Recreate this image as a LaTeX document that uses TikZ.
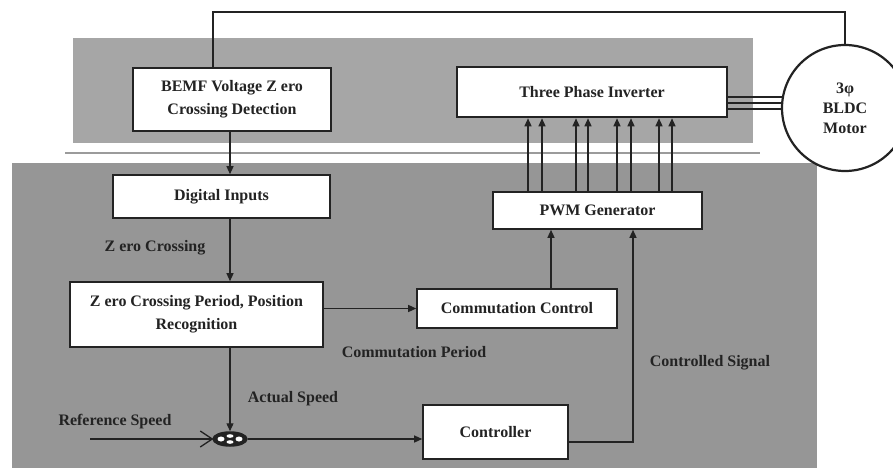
\documentclass[tikz,border=0pt]{standalone}
\usepackage{fontspec}
\setmainfont{Liberation Serif}
\usetikzlibrary{arrows.meta,shapes.geometric}
\definecolor{topgray}{RGB}{166,166,166}
\definecolor{botgray}{RGB}{150,150,150}
\definecolor{linegray}{RGB}{155,155,155}
\definecolor{ink}{RGB}{35,35,35}
\begin{document}
\begin{tikzpicture}[x=1pt,y=-1pt,
  box/.style={draw=ink,line width=1.6pt,fill=white,inner sep=0pt,align=center,text=ink,
    font=\fontsize{16}{23}\selectfont\bfseries},
  lbl/.style={text=ink,font=\fontsize{16}{20}\selectfont\bfseries,inner sep=0pt},
  wire/.style={draw=ink,line width=1.3pt},
  arr/.style={wire,-{Triangle[length=8pt,width=7pt]}}]
\useasboundingbox (0,0) rectangle (893,468);
\fill[white] (0,0) rectangle (893,468);
% regions
\fill[topgray] (73,38) rectangle (753,143);
\fill[botgray] (12,163) rectangle (817,468);
\draw[linegray,line width=2.5pt] (65,153) -- (760,153);
% boxes
\node[box,minimum width=198pt,minimum height=63pt] (bemf) at (232,99.5) {BEMF Voltage Z ero\\Crossing Detection};
\node[box,minimum width=217pt,minimum height=43pt] (dig) at (221.5,196.5) {Digital Inputs};
\node[box,line width=2.6pt,minimum width=270pt,minimum height=50pt] (inv) at (592,92) {Three Phase Inverter};
\node[box,minimum width=209pt,minimum height=37pt] (pwm) at (597.5,210.5) {PWM Generator};
\node[box,minimum width=253pt,minimum height=65pt] (zcp) at (196.5,314.5) {Z ero Crossing Period, Position\\Recognition};
\node[box,minimum width=200pt,minimum height=39pt] (comm) at (517,308.5) {Commutation Control};
\node[box,minimum width=145pt,minimum height=54pt] (ctrl) at (495.5,432) {Controller};
% three-phase lines (drawn under the motor circle)
\foreach \yy in {97,103,109}{
  \draw[ink,line width=1.1pt] (inv.east |- 0,\yy) -- (800,\yy);}
% motor
\node[circle,draw=ink,line width=2.2pt,fill=white,minimum size=126pt,inner sep=0pt,align=center,text=ink,
  font=\fontsize{16}{20}\selectfont\bfseries] (mot) at (845,108) {3φ\\BLDC\\Motor};
% summing junction
\node[ellipse,draw=ink,fill=ink,line width=1.5pt,minimum width=34pt,minimum height=14pt,inner sep=0pt] (sum) at (230,439) {};
\fill[white] (sum.center) ++(-9,0) ellipse (3.5 and 2.5);
\fill[white] (sum.center) ++(9,0) ellipse (3.5 and 2.5);
\fill[white] (sum.center) ++(0,-3) ellipse (3.5 and 1.8);
\fill[white] (sum.center) ++(0,3) ellipse (3.5 and 1.8);
\draw[wire] (sum.west) ++(-12,-8) -- (sum.west) -- ++(-12,8);
% coordinates
\coordinate (xa) at (230,0);
\coordinate (xc) at (551,0);
\coordinate (xs) at (633,0);
\coordinate (ref) at (90,439);
\coordinate (fbl) at (213,12);
\coordinate (fbr) at (845,12);
% feedback line
\draw[wire,line width=1.2pt] (bemf.north -| fbl) -- (fbl) -- (fbr) -- (mot.north);
% PWM arrows
\foreach \xx in {528,542,576,588,617,631,659,672}{
  \draw[arr] (pwm.north -| \xx,0) -- (inv.south -| \xx,0);}
% main arrows
\draw[arr] (bemf.south -| xa) -- (dig.north -| xa);
\draw[arr] (dig.south -| xa) -- (zcp.north -| xa);
\draw[arr] (zcp.east |- comm.west) -- (comm.west);
\draw[arr] (comm.north -| xc) -- (pwm.south -| xc);
\draw[arr] (zcp.south -| xa) -- (sum.north);
\draw[wire] (ref) -- (sum.west);
\draw[arr] (sum.east) -- (ctrl.west |- sum.east);
\draw[arr] (ctrl.east |- 0,442) -- (xs |- 0,442) -- (pwm.south -| xs);
% labels
\node[lbl] (l1) at (155,248) {Z ero Crossing};
\node[lbl] (l2) at (414,352) {Commutation Period};
\node[lbl] (l3) at (293,399) {Actual Speed};
\node[lbl] (l4) at (115,422) {Reference Speed};
\node[lbl] (l5) at (710,363) {Controlled Signal};
\end{tikzpicture}
\end{document}
